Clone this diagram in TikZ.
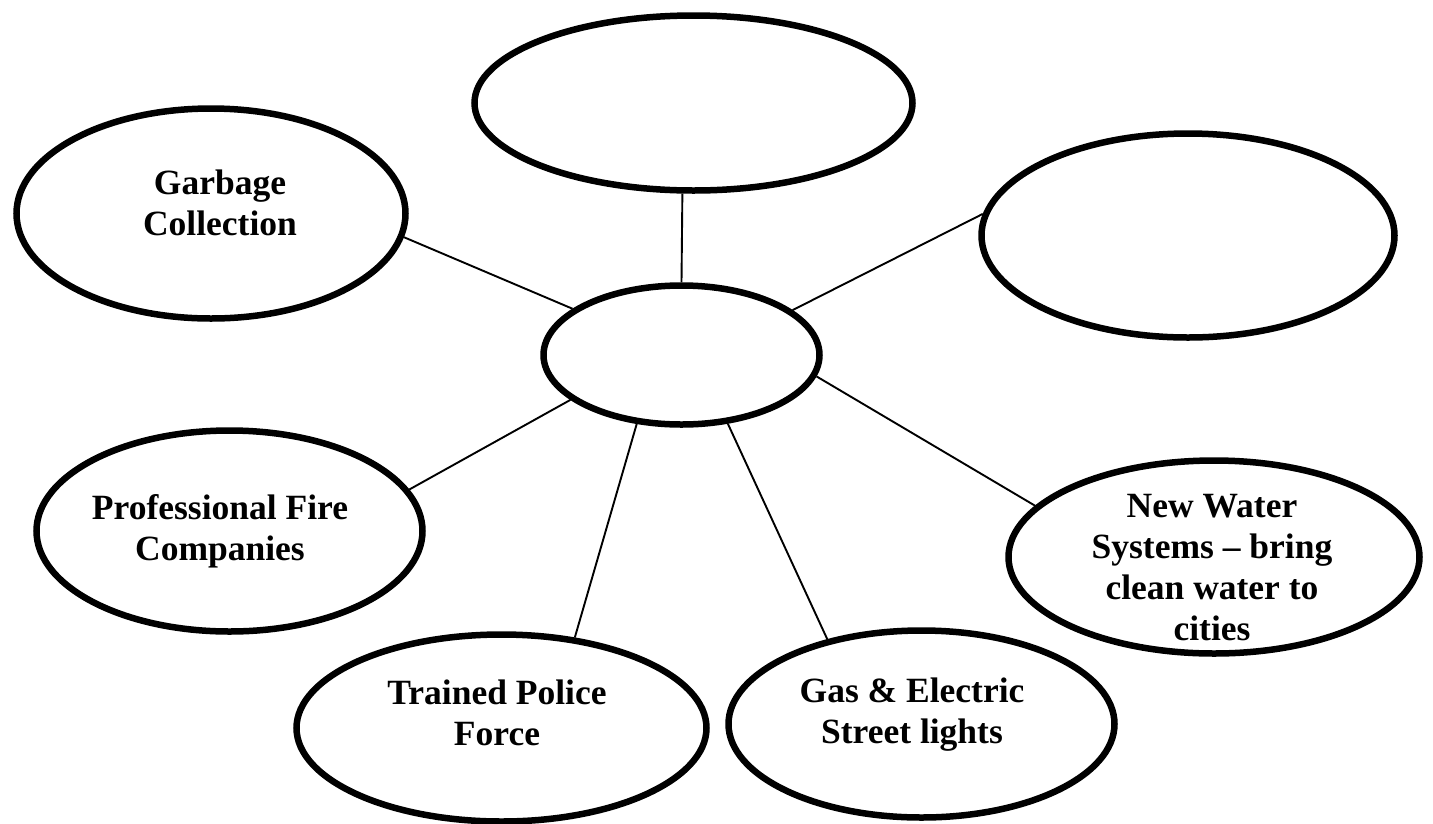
\documentclass[tikz,border=0pt]{standalone}
\usepackage{fontspec}
\setmainfont{Liberation Serif}
\usetikzlibrary{shapes.geometric}
\begin{document}
\begin{tikzpicture}[x=1pt,y=-1pt,
  bubble/.style={ellipse,draw,line width=6.5pt,inner sep=0pt},
  link/.style={line width=1.9pt},
  lbl/.style={inner sep=0pt,align=center,font=\fontsize{35.5}{41}\selectfont\bfseries}]
\useasboundingbox[fill=white] (0,0) rectangle (1433,823);
% ellipses
\node[bubble,minimum width=438pt,minimum height=175pt] (top) at (693.5,103) {};
\node[bubble,minimum width=389pt,minimum height=210pt] (garb) at (211,213.5) {};
\node[bubble,minimum width=413pt,minimum height=204pt] (rt) at (1188,235.5) {};
\node[bubble,minimum width=276pt,minimum height=139pt] (ctr) at (681.5,355) {};
\node[bubble,minimum width=386pt,minimum height=201pt] (fire) at (229.5,531) {};
\node[bubble,minimum width=410pt,minimum height=187pt] (police) at (501.5,728) {};
\node[bubble,minimum width=386pt,minimum height=187pt] (gas) at (921.5,724) {};
\node[bubble,minimum width=411pt,minimum height=193pt] (water) at (1214,557) {};
% labels
\node[lbl] (tgarb) at (220,207) {\strut Garbage\\\strut Collection};
\node[lbl] (tfire) at (220,532) {\strut Professional Fire\\\strut Companies};
\node[lbl] (tpolice) at (497,717) {\strut Trained Police\\\strut Force};
\node[lbl] (tgas) at (912,715) {\strut Gas \& Electric\\\strut Street lights};
\node[lbl] (twater) at (1212,571) {\strut New Water\\\strut Systems -- bring\\\strut clean water to\\\strut cities};
% connectors
\draw[link] (top.-97.2) -- (ctr.north);
\draw[link] (garb.-7) -- (ctr.157.7);
\draw[link] (rt.174.2) -- (ctr.22.1);
\draw[link] (fire.13.2) -- (ctr.-158.1);
\draw[link] (police.51.9) -- (ctr.-123);
\draw[link] (gas.138) -- (ctr.-56.4);
\draw[link] (water.164.4) -- (ctr.-9.4);
\end{tikzpicture}
\end{document}
